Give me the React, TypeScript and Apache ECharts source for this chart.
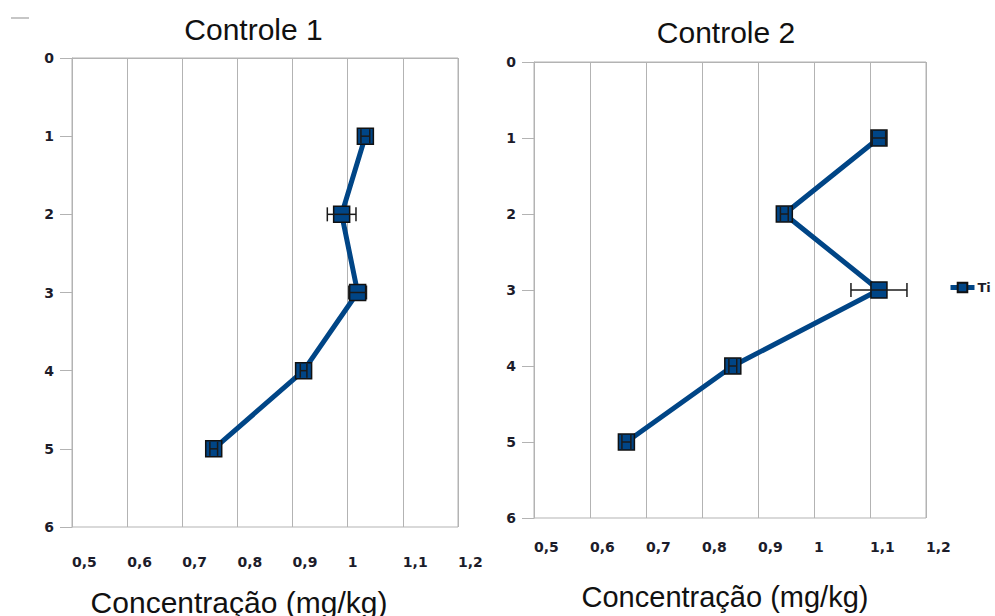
import React, { useEffect, useRef } from 'react';
import * as echarts from 'echarts';

const depths = [1, 2, 3, 4, 5];
const controle1Values = [1.032, 0.989, 1.018, 0.92, 0.757];
const controle1Errors = [0.008, 0.026, 0.016, 0.006, 0.007];
const controle2Values = [1.116, 0.947, 1.116, 0.855, 0.665];
const controle2Errors = [0.012, 0.007, 0.05, 0.007, 0.008];
const xTickLabels = ['0,5', '0,6', '0,7', '0,8', '0,9', '1', '1,1', '1,2'];
const yTickLabels = ['0', '1', '2', '3', '4', '5', '6'];
const titles = ['Controle 1', 'Controle 2'];
const xAxisName = 'Concentração (mg/kg)';
const seriesName = 'Ti';

const BLUE = '#004586';
const GRID = '#b3b3b3';
const LABEL_FONT = 'DejaVu Sans';
const TEXT_FONT = 'Liberation Sans';

export default function App() {
  const ref = useRef<HTMLDivElement>(null);

  useEffect(() => {
    document.body.style.margin = '0';
    if (!ref.current) return;
    const chart = echarts.init(ref.current, undefined, { renderer: 'svg' });

    const panels = [
      { values: controle1Values, errors: controle1Errors },
      { values: controle2Values, errors: controle2Errors },
    ];

    const grids = [
      { left: 72, right: 995 - 458, top: 58, bottom: 616 - 527 },
      { left: 534, right: 995 - 926, top: 62, bottom: 616 - 518 },
    ].map((g) => ({ ...g, show: true, borderColor: GRID, borderWidth: 1, backgroundColor: 'transparent', containLabel: false }));

    const labelStyle = {
      fontFamily: LABEL_FONT,
      fontSize: 14,
      fontWeight: 'bold' as const,
      color: '#1c1c2a',
    };

    const xAxes = [28, 22].map((margin, i) => ({
      gridIndex: i,
      type: 'value' as const,
      min: 0.5,
      max: 1.2,
      interval: 0.1,
      position: 'bottom' as const,
      axisLine: { show: true, lineStyle: { color: GRID, width: 1 } },
      axisTick: { show: true, length: 10, lineStyle: { color: GRID } },
      splitLine: { show: true, lineStyle: { color: GRID, width: 1 } },
      axisLabel: {
        ...labelStyle,
        align: 'left' as const,
        margin,
        showMinLabel: true,
        showMaxLabel: true,
        hideOverlap: false,
        formatter: (v: number) => xTickLabels[Math.round((v - 0.5) / 0.1)] ?? '',
      },
    }));

    const yAxes = [0, 1].map((i) => ({
      gridIndex: i,
      type: 'value' as const,
      inverse: true,
      min: 0,
      max: 6,
      interval: 1,
      axisLine: { show: true, lineStyle: { color: GRID, width: 1 } },
      axisTick: { show: true, length: 12, lineStyle: { color: GRID } },
      splitLine: { show: false },
      axisLabel: {
        ...labelStyle,
        margin: 18,
        showMinLabel: true,
        showMaxLabel: true,
        formatter: (v: number) => yTickLabels[Math.round(v)] ?? '',
      },
    }));

    const series: any[] = [];
    panels.forEach((p, i) => {
      series.push({
        name: seriesName,
        type: 'line',
        xAxisIndex: i,
        yAxisIndex: i,
        data: depths.map((d, k) => [p.values[k], d]),
        symbol: 'rect',
        symbolSize: 16,
        lineStyle: { color: BLUE, width: 5 },
        itemStyle: { color: BLUE, borderColor: '#111', borderWidth: 1.5 },
        z: 2,
      });
      series.push({
        name: 'err' + i,
        type: 'custom',
        xAxisIndex: i,
        yAxisIndex: i,
        data: depths.map((d, k) => [p.values[k], d, p.errors[k]]),
        encode: { x: 0, y: 1 },
        z: 5,
        renderItem: (params: any, api: any) => {
          const x = api.value(0);
          const y = api.value(1);
          const e = api.value(2);
          const lo = api.coord([x - e, y]);
          const hi = api.coord([x + e, y]);
          const h = 7;
          const style = { stroke: '#1a1a1a', lineWidth: 1.5 };
          return {
            type: 'group',
            children: [
              { type: 'line', shape: { x1: lo[0], y1: lo[1], x2: hi[0], y2: hi[1] }, style },
              { type: 'line', shape: { x1: lo[0], y1: lo[1] - h, x2: lo[0], y2: lo[1] + h }, style },
              { type: 'line', shape: { x1: hi[0], y1: hi[1] - h, x2: hi[0], y2: hi[1] + h }, style },
            ],
          };
        },
      });
    });

    const textStyle = (size: number) => ({
      fill: '#111',
      fontFamily: TEXT_FONT,
      fontSize: size,
      align: 'center' as const,
      verticalAlign: 'middle' as const,
    });

    chart.setOption({
      animation: false,
      backgroundColor: '#fff',
      grid: grids,
      xAxis: xAxes,
      yAxis: yAxes,
      series,
      legend: {
        data: [seriesName],
        left: 948,
        top: 281,
        itemWidth: 24,
        itemHeight: 12,
        padding: 0,
        lineStyle: { width: 5, color: BLUE },
        textStyle: { fontFamily: LABEL_FONT, fontSize: 13, fontWeight: 'bold', color: '#1c1c2a', padding: [0, 0, 0, -2] },
        selectedMode: false,
      },
      graphic: [
        { type: 'line', shape: { x1: 11, y1: 18, x2: 29, y2: 18 }, style: { stroke: GRID, lineWidth: 1.5 } },
        { type: 'text', x: 253.5, y: 29, style: { ...textStyle(30), text: titles[0] } },
        { type: 'text', x: 726, y: 32.5, style: { ...textStyle(30), text: titles[1] } },
        { type: 'text', x: 239, y: 602, style: { ...textStyle(30), text: xAxisName } },
        { type: 'text', x: 725, y: 596.5, style: { ...textStyle(29), text: xAxisName } },
      ],
    });

    return () => chart.dispose();
  }, []);

  return <div ref={ref} style={{ width: 995, height: 616 }} />;
}
